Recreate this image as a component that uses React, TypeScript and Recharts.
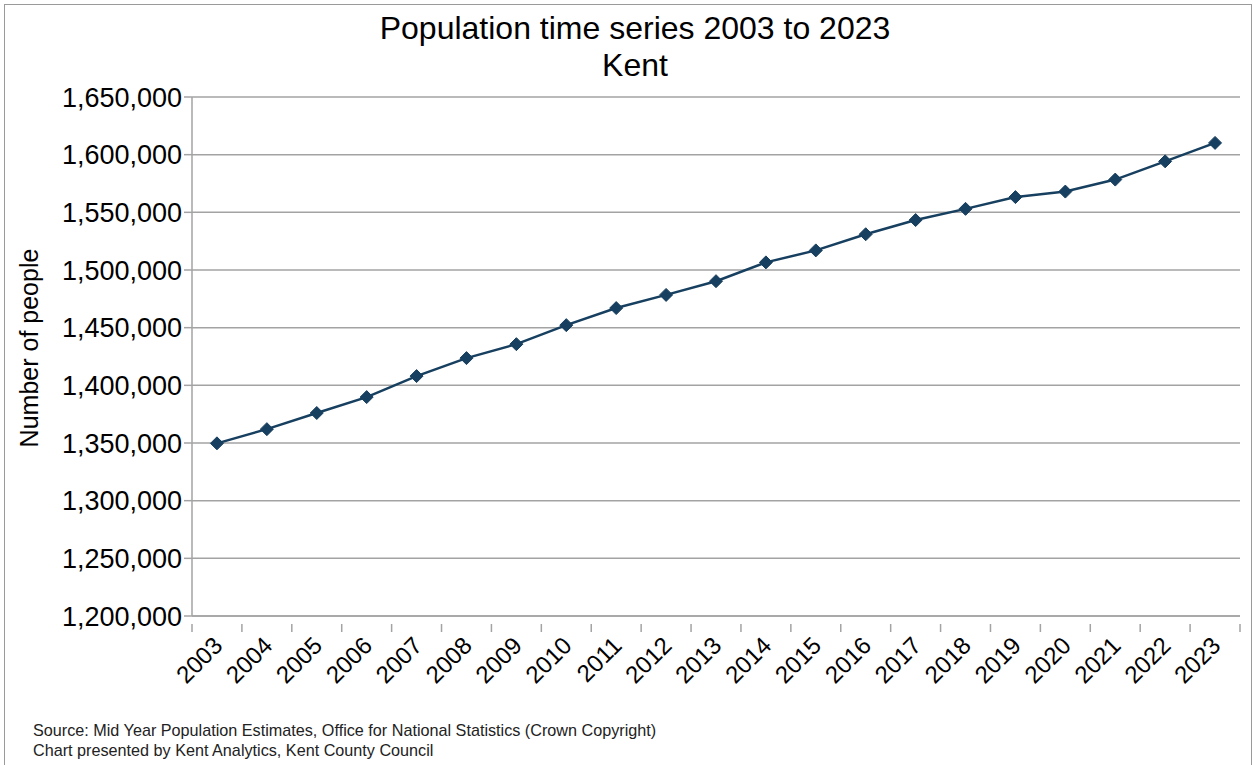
import { LineChart, Line, XAxis, YAxis, CartesianGrid } from 'recharts'

const years = [
  2003, 2004, 2005, 2006, 2007, 2008, 2009, 2010, 2011, 2012, 2013,
  2014, 2015, 2016, 2017, 2018, 2019, 2020, 2021, 2022, 2023,
]
const population = [
  1349700, 1362000, 1376000, 1389800, 1408000, 1423600, 1435700, 1452200,
  1467000, 1478400, 1490300, 1506600, 1517000, 1531000, 1543300, 1553000,
  1563200, 1568000, 1578400, 1594200, 1610200,
]
const yTicks = [
  1200000, 1250000, 1300000, 1350000, 1400000, 1450000, 1500000, 1550000, 1600000, 1650000,
]

const data = years.map((year, i) => ({ year, population: population[i] }))

// ticks at each year (labels) and at every half year (tick marks between categories)
const xTicks: number[] = []
years.forEach(y => {
  xTicks.push(y - 0.5)
  xTicks.push(y)
})
xTicks.push(years[years.length - 1] + 0.5)

const FONT = '"Liberation Sans", Arial, sans-serif'
const LINE = '#173f5f'
const GRID = '#a3a3a3'

const XTick = (props: any) => {
  const { x, y, payload } = props
  const v = payload.value as number
  if (!Number.isInteger(v)) {
    return <line x1={x} y1={y} x2={x} y2={y + 8} stroke={GRID} strokeWidth={1.5} />
  }
  const tx = x + 7
  const ty = y + 23
  return (
    <text
      x={tx}
      y={ty}
      transform={`rotate(-45, ${tx}, ${ty})`}
      textAnchor="end"
      fill="#000"
      fontSize={24}
      fontFamily={FONT}
    >
      {v}
    </text>
  )
}

const Diamond = (props: any) => {
  const { cx, cy, index } = props
  const r = 6.5
  return (
    <polygon
      key={index}
      points={`${cx},${cy - r} ${cx + r},${cy} ${cx},${cy + r} ${cx - r},${cy}`}
      fill={LINE}
      stroke={LINE}
    />
  )
}

export default function App() {
  return (
    <div
      style={{
        position: 'absolute',
        left: 0,
        top: 0,
        width: 1253,
        height: 765,
        background: '#fff',
        fontFamily: FONT,
        overflow: 'hidden',
      }}
    >
      <div
        style={{
          position: 'absolute',
          left: 4,
          top: 4,
          width: 1246,
          height: 780,
          border: '1px solid #9a9a9a',
        }}
      />
      <div
        style={{
          position: 'absolute',
          left: 0,
          top: 10,
          width: 1270,
          textAlign: 'center',
          fontSize: 32,
          lineHeight: '37px',
          color: '#000',
        }}
      >
        Population time series 2003 to 2023
        <br />
        Kent
      </div>
      <div
        style={{
          position: 'absolute',
          left: 29 - 150,
          top: 348 - 15,
          width: 300,
          height: 30,
          lineHeight: '30px',
          fontSize: 25,
          textAlign: 'center',
          transform: 'rotate(-90deg)',
          color: '#000',
        }}
      >
        Number of people
      </div>
      <div style={{ position: 'absolute', left: 0, top: 0 }}>
        <LineChart
          width={1253}
          height={765}
          data={data}
          margin={{ top: 97, right: 13, bottom: 0, left: 0 }}
        >
          <CartesianGrid vertical={false} stroke={GRID} strokeWidth={1.5} />
          <XAxis
            dataKey="year"
            type="number"
            domain={[2002.5, 2023.5]}
            ticks={xTicks}
            interval={0}
            tickLine={false}
            tick={<XTick />}
            axisLine={{ stroke: GRID, strokeWidth: 1.5 }}
            height={149}
          />
          <YAxis
            domain={[1200000, 1650000]}
            ticks={yTicks}
            interval={0}
            width={192}
            tickFormatter={(v: number) => v.toLocaleString('en-US')}
            tick={{ fill: '#000', fontSize: 27, fontFamily: FONT }}
            tickSize={8}
            tickLine={{ stroke: GRID, strokeWidth: 1.5 }}
            axisLine={{ stroke: GRID, strokeWidth: 1.5 }}
          />
          <Line
            type="linear"
            dataKey="population"
            stroke={LINE}
            strokeWidth={2.5}
            dot={<Diamond />}
            isAnimationActive={false}
          />
        </LineChart>
      </div>
      <div
        style={{
          position: 'absolute',
          left: 33,
          top: 720,
          fontSize: 16.2,
          lineHeight: '20px',
          color: '#222',
        }}
      >
        Source: Mid Year Population Estimates, Office for National Statistics (Crown Copyright)
        <br />
        Chart presented by Kent Analytics, Kent County Council
      </div>
    </div>
  )
}
